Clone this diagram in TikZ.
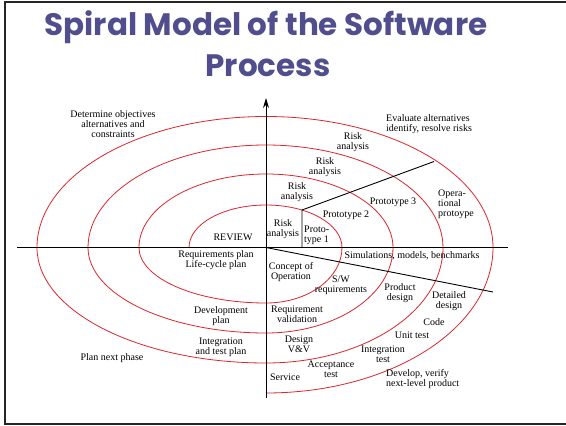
\documentclass[tikz,border=0pt]{standalone}
\usepackage{fontspec}
\setmainfont{Liberation Serif}
\newfontfamily\titlefont{Poppins}
\usetikzlibrary{arrows.meta}
\definecolor{spiralred}{RGB}{218,38,44}
\definecolor{titleblue}{RGB}{80,78,140}
\begin{document}
\begin{tikzpicture}[x=1pt,y=-1pt,
  lbl/.style={font=\fontsize{10}{10}\selectfont, align=center, inner sep=0pt},
  lbll/.style={lbl, align=left},
  axisline/.style={line width=0.9pt, draw=black},
  spiralline/.style={draw=spiralred, line width=0.8pt},
  frameline/.style={line width=2pt, draw=black!85},
  titletext/.style={font=\titlefont\bfseries\fontsize{31}{31}\selectfont, text=titleblue, inner sep=0pt, anchor=base}]
\useasboundingbox (0,0) rectangle (566,426);
% frame
\draw[frameline] (566,1.5) -- (4.5,1.5) -- (4.5,423.5) -- (566,423.5);
% title
\node[titletext] (t1) at (266,35) {Spiral Model of the Software};
\node[titletext] (t2) at (268,76) {Process};
% coordinates
\coordinate (O) at (266,247.5);
\coordinate (xL) at (17,247.5);
\coordinate (xR) at (508,247.5);
\coordinate (yB) at (266,398);
\coordinate (yT) at (266,98);
\coordinate (p0) at (302,247.5);
\coordinate (p1) at (302,210);
\coordinate (p2) at (434,161.5);
\coordinate (d1) at (493,292);
\coordinate (s0) at (189,247.5);
% spiral
\draw[spiralline] (s0)
 arc[start angle=180,end angle=270,x radius=77,y radius=42.5]
 arc[start angle=270,end angle=360,x radius=76,y radius=42.5]
 arc[start angle=0,end angle=90,x radius=76,y radius=55.5]
 arc[start angle=90,end angle=180,x radius=127,y radius=55.5]
 arc[start angle=180,end angle=270,x radius=127,y radius=73.5]
 arc[start angle=270,end angle=360,x radius=127,y radius=73.5]
 arc[start angle=0,end angle=90,x radius=127,y radius=85.5]
 arc[start angle=90,end angle=180,x radius=178,y radius=85.5]
 arc[start angle=180,end angle=270,x radius=178,y radius=102.5]
 arc[start angle=270,end angle=360,x radius=177,y radius=102.5]
 arc[start angle=0,end angle=90,x radius=177,y radius=115.5]
 arc[start angle=90,end angle=180,x radius=229,y radius=115.5]
 arc[start angle=180,end angle=270,x radius=229,y radius=131]
 arc[start angle=270,end angle=360,x radius=227,y radius=131]
 arc[start angle=0,end angle=90,x radius=227,y radius=145.5];
% axes and dividers
\draw[axisline] (xL) -- (xR);
\draw[axisline, -{Stealth[length=10pt,width=6pt]}] (yB) -- (yT);
\draw[axisline] (O) -- (d1);
\draw[axisline] (p0) -- (p1) -- (p2);
% labels
\node[lbl] (l1) at (113,124) {Determine objectives\\alternatives and\\constraints};
\node[lbll, anchor=west] (l2) at (386,124) {Evaluate alternatives\\identify, resolve risks};
\node[lbl] (l3) at (353,142.5) {Risk\\analysis};
\node[lbl] (l4) at (325,167) {Risk\\analysis};
\node[lbl] (l5) at (297,192) {Risk\\analysis};
\node[lbl] (l6) at (283,229) {Risk\\analysis};
\node[lbll, anchor=west] (l7) at (304,235.5) {Proto-\\type 1};
\node[lbl] (l8) at (346,215) {Prototype 2};
\node[lbl] (l9) at (393,202) {Prototype 3};
\node[lbll, anchor=west] (l10) at (438,204) {Opera-\\tional\\protoype};
\node[lbl] (l11) at (233,237) {REVIEW};
\node[lbl] (l12) at (412,256) {Simulations, models, benchmarks};
\node[lbl] (l13) at (216,260) {Requirements plan\\Life-cycle plan};
\node[lbl] (l14) at (221,316.5) {Development\\plan};
\node[lbl] (l15) at (221,347.5) {Integration\\and test plan};
\node[lbl] (l16) at (112,358) {Plan next phase};
\node[lbl] (l17) at (291,272) {Concept of\\Operation};
\node[lbl] (l18) at (341,285) {S/W\\requirements};
\node[lbl] (l19) at (400,293.5) {Product\\design};
\node[lbl] (l20) at (449,301) {Detailed\\design};
\node[lbl] (l21) at (297,314) {Requirement\\validation};
\node[lbl] (l22) at (434,322) {Code};
\node[lbl] (l23) at (412,335) {Unit test};
\node[lbl] (l24) at (299,344) {Design\\V\&V};
\node[lbl] (l25) at (383,354) {Integration\\test};
\node[lbl] (l26) at (331,369) {Acceptance\\test};
\node[lbl] (l27) at (285,377) {Service};
\node[lbll, anchor=west] (l28) at (386,379.5) {Develop, verify\\next-level product};
\end{tikzpicture}
\end{document}
